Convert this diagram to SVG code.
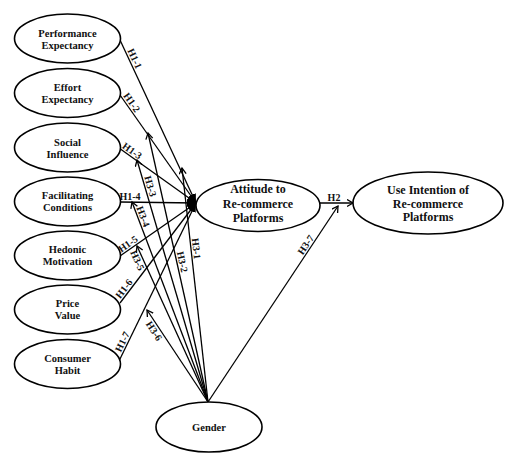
<svg xmlns="http://www.w3.org/2000/svg" width="505" height="467" viewBox="0 0 505 467">
<style>
.node ellipse{fill:#fff;stroke:#000;stroke-width:1.6}
.node text{font-family:"Liberation Serif","Times New Roman",serif;font-weight:bold;font-size:10.5px;text-anchor:middle;fill:#111}
.big text{font-size:12px}
.conn line{stroke:#000;stroke-width:1.3;fill:none}
.lbl{font-family:"Liberation Serif","Times New Roman",serif;font-weight:bold;font-size:10px;text-anchor:middle;fill:#111}
</style>
<defs>
<marker id="fill" markerWidth="10" markerHeight="10" refX="9" refY="4" orient="auto" markerUnits="userSpaceOnUse"><path d="M0,0 L9,4 L0,8 z" fill="#000"/></marker>
<marker id="open" markerWidth="10" markerHeight="10" refX="6.5" refY="4" orient="auto" markerUnits="userSpaceOnUse"><path d="M0.5,0.5 L6.5,4 L0.5,7.5" fill="none" stroke="#000" stroke-width="1.3"/></marker>
</defs>
<rect width="505" height="467" fill="#fff"/>
<g id="connectors" class="conn">
<line x1="120" y1="40" x2="196" y2="203" marker-end="url(#fill)"/>
<line x1="120" y1="95" x2="196" y2="203" marker-end="url(#fill)"/>
<line x1="119" y1="148" x2="196" y2="203" marker-end="url(#fill)"/>
<line x1="120" y1="202" x2="196" y2="203" marker-end="url(#fill)"/>
<line x1="120" y1="256" x2="196" y2="203" marker-end="url(#fill)"/>
<line x1="120" y1="303" x2="196" y2="203" marker-end="url(#fill)"/>
<line x1="119" y1="361" x2="196" y2="203" marker-end="url(#fill)"/>
<line x1="320" y1="203" x2="353" y2="203" marker-end="url(#open)"/>
<line x1="208" y1="402" x2="182" y2="168" marker-end="url(#open)"/>
<line x1="208" y1="402" x2="148" y2="133" marker-end="url(#open)"/>
<line x1="208" y1="402" x2="137" y2="160" marker-end="url(#open)"/>
<line x1="208" y1="402" x2="132" y2="202" marker-end="url(#open)"/>
<line x1="208" y1="402" x2="137" y2="246" marker-end="url(#open)"/>
<line x1="208" y1="402" x2="147" y2="310" marker-end="url(#open)"/>
<line x1="208" y1="402" x2="338" y2="206" marker-end="url(#open)"/>
</g>
<g id="labels">
<text class="lbl" transform="translate(129.8,60.9) rotate(65)" y="-2">H1-1</text>
<text class="lbl" transform="translate(127.4,105.5) rotate(54.9)" y="-2">H1-2</text>
<text class="lbl" transform="translate(129,155.2) rotate(35.5)" y="-2">H1-3</text>
<text class="lbl" transform="translate(130,202)" y="-2">H1-4</text>
<text class="lbl" transform="translate(131,248.3) rotate(-34.9)" y="-2">H1-5</text>
<text class="lbl" transform="translate(128.3,292) rotate(-52.8)" y="-2">H1-6</text>
<text class="lbl" transform="translate(127.2,344.1) rotate(-64)" y="-2">H1-7</text>
<text class="lbl" transform="translate(334,203)" y="-2">H2</text>
<text class="lbl" transform="translate(191,249.3) rotate(83.7)" y="-2">H3-1</text>
<text class="lbl" transform="translate(177,262.9) rotate(77.4)" y="-2">H3-2</text>
<text class="lbl" transform="translate(145.2,187.8) rotate(73.6)" y="-2">H3-3</text>
<text class="lbl" transform="translate(138.2,218.4) rotate(69.2)" y="-2">H3-4</text>
<text class="lbl" transform="translate(142.5,258) rotate(65.5)" y="9">H3-5</text>
<text class="lbl" transform="translate(158.8,327.8) rotate(56.5)" y="9">H3-6</text>
<text class="lbl" transform="translate(310.3,247.8) rotate(-56.4)" y="-2">H3-7</text>
</g>
<g id="performance-expectancy" class="node"><ellipse cx="67.5" cy="38.5" rx="53" ry="24.5"/><text x="67.5" y="36.5">Performance</text><text x="67.5" y="48.5">Expectancy</text></g>
<g id="effort-expectancy" class="node"><ellipse cx="67.5" cy="93" rx="53" ry="24.5"/><text x="67.5" y="90.5">Effort</text><text x="67.5" y="102.5">Expectancy</text></g>
<g id="social-influence" class="node"><ellipse cx="67.5" cy="147.5" rx="53" ry="24.5"/><text x="67.5" y="145.5">Social</text><text x="67.5" y="157.5">Influence</text></g>
<g id="facilitating-conditions" class="node"><ellipse cx="67.5" cy="201.5" rx="53" ry="24.5"/><text x="67.5" y="198.5">Facilitating</text><text x="67.5" y="210.5">Conditions</text></g>
<g id="hedonic-motivation" class="node"><ellipse cx="67.5" cy="255.5" rx="53" ry="24.5"/><text x="67.5" y="252.5">Hedonic</text><text x="67.5" y="264.5">Motivation</text></g>
<g id="price-value" class="node"><ellipse cx="67.5" cy="309.5" rx="53" ry="24.5"/><text x="67.5" y="306.5">Price</text><text x="67.5" y="319">Value</text></g>
<g id="consumer-habit" class="node"><ellipse cx="67.5" cy="364" rx="53" ry="24.5"/><text x="67.5" y="361.5">Consumer</text><text x="67.5" y="373.5">Habit</text></g>
<g id="attitude" class="node big"><ellipse cx="258" cy="205.5" rx="62" ry="26"/><text x="258" y="193">Attitude to</text><text x="258" y="207.5">Re-commerce</text><text x="258" y="222">Platforms</text></g>
<g id="use-intention" class="node big"><ellipse cx="428" cy="203" rx="75" ry="31"/><text x="428" y="194">Use Intention of</text><text x="428" y="207.5">Re-commerce</text><text x="428" y="221">Platforms</text></g>
<g id="gender" class="node"><ellipse cx="209" cy="427" rx="53" ry="25"/><text x="209" y="430.5">Gender</text></g>
</svg>
